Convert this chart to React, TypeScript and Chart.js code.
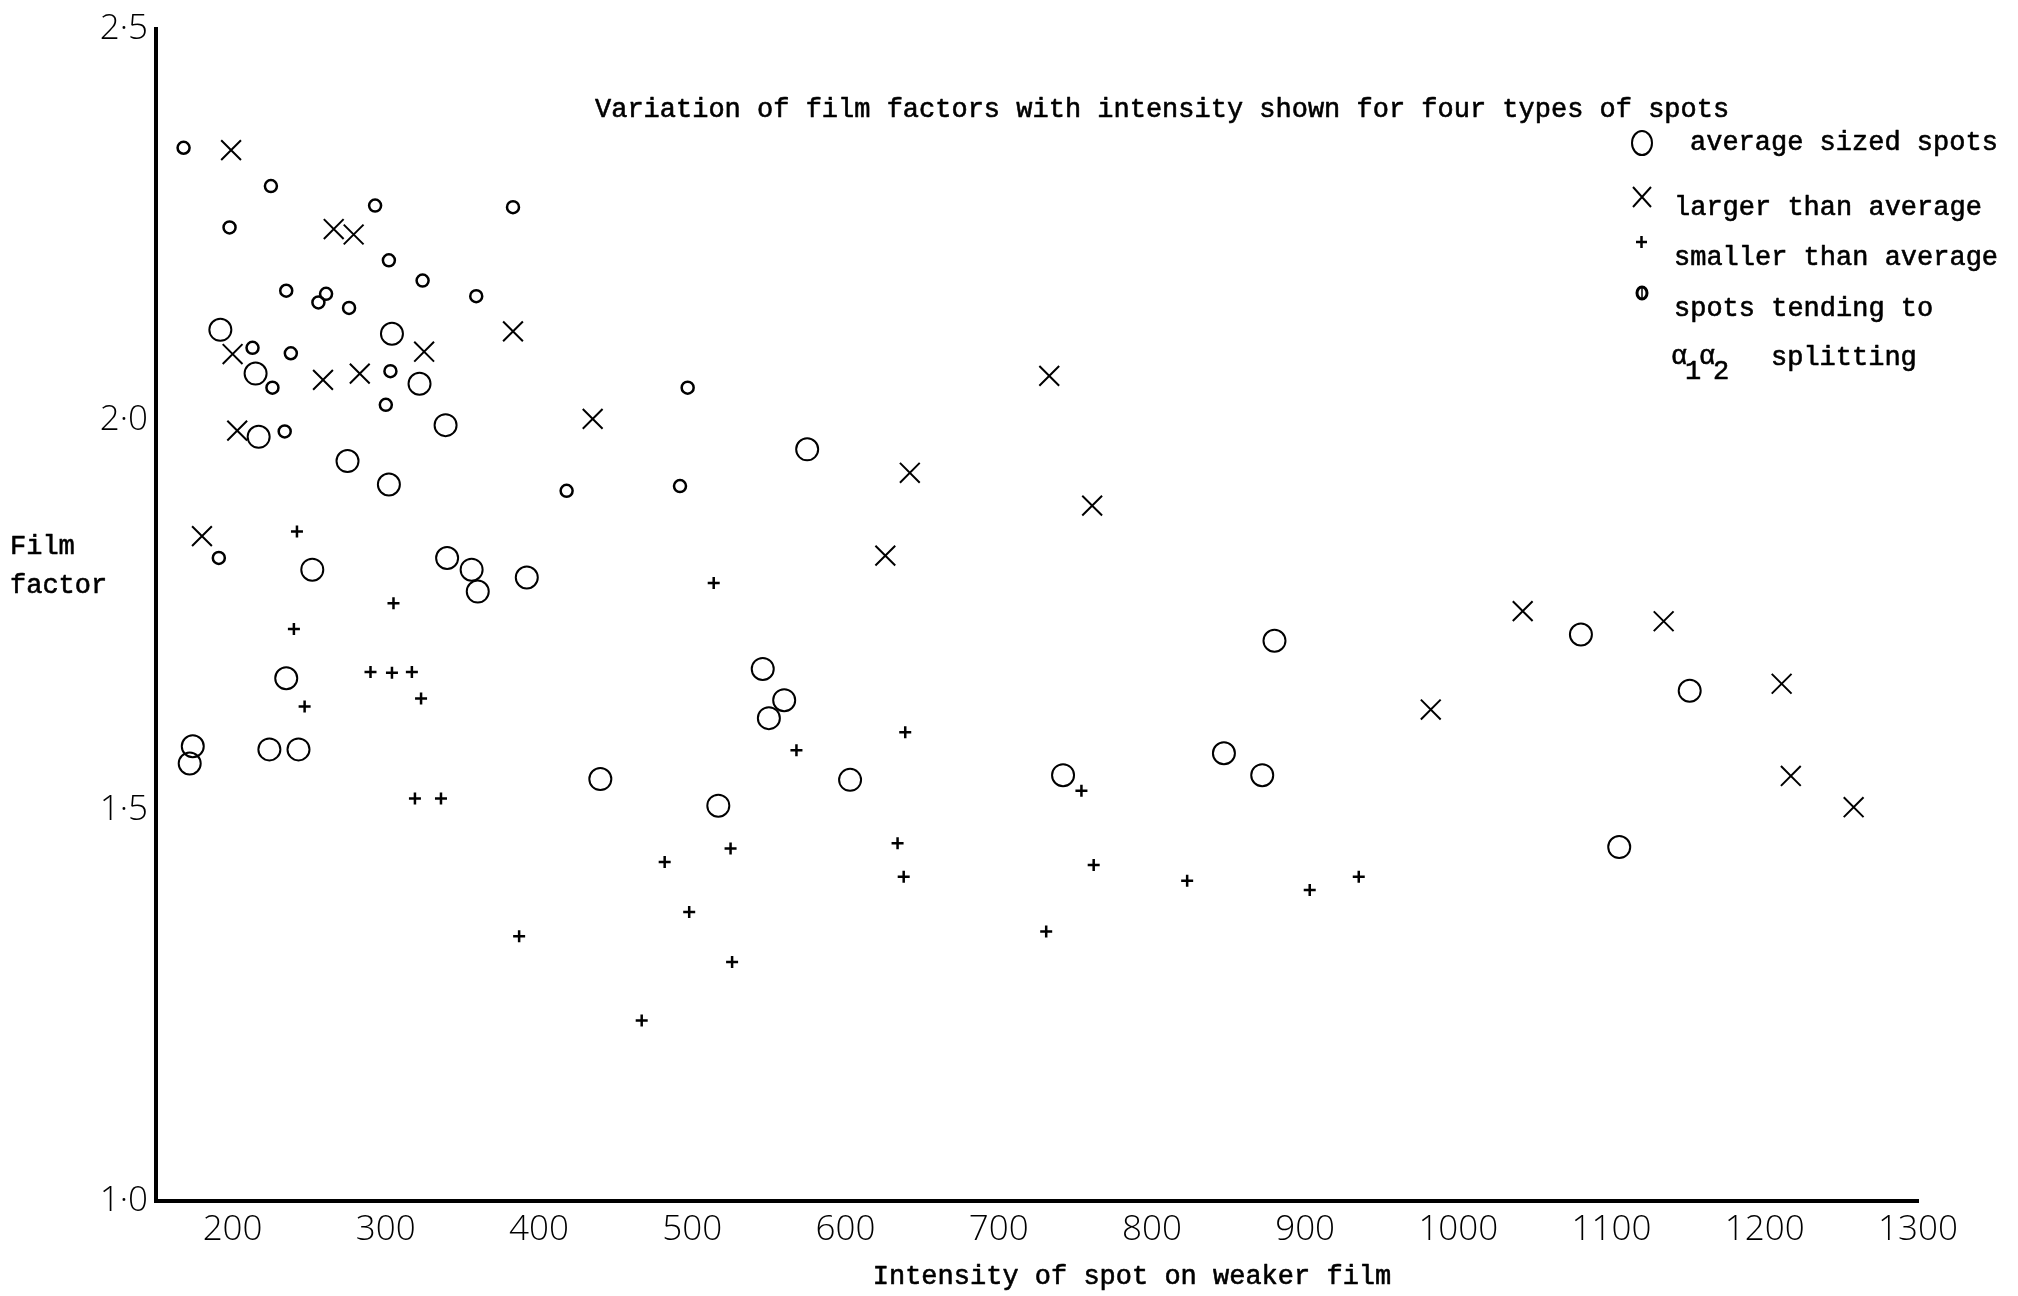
import React, { useEffect, useRef } from 'react';
import { Chart, registerables } from 'chart.js';

Chart.register(...registerables);

const W = 2018;
const H = 1296;

const TITLE = 'Variation of film factors with intensity shown for four types of spots';
const X_TITLE = 'Intensity of spot on weaker film';
const Y_TITLE_LINES = ['Film', 'factor'];

const seriesLabels = [
  'average sized spots',
  'larger than average',
  'smaller than average',
  'spots tending to α1α2 splitting',
];

const xTickValues = [200, 300, 400, 500, 600, 700, 800, 900, 1000, 1100, 1200, 1300];
const yTickValues = [1.0, 1.5, 2.0, 2.5];
const yTickLabels = ['1·0', '1·5', '2·0', '2·5'];

// average sized spots (large circles)
const averageIntensity = [192, 304, 215, 322, 339, 217, 275, 302, 575, 340, 356, 360, 392, 252, 235, 174, 172, 224, 243, 440, 546, 560, 550, 517, 603, 742, 847, 872, 880, 1080, 1151, 1105];
const averageFactor = [2.115, 2.110, 2.059, 2.046, 1.993, 1.978, 1.947, 1.917, 1.962, 1.823, 1.808, 1.780, 1.798, 1.808, 1.669, 1.582, 1.560, 1.578, 1.578, 1.540, 1.681, 1.641, 1.618, 1.506, 1.539, 1.545, 1.573, 1.545, 1.717, 1.725, 1.653, 1.453];

// larger than average (x)
const largerIntensity = [199, 266, 279, 325, 200, 259, 283, 383, 203, 435, 180, 733, 642, 761, 626, 982, 1042, 1134, 1211, 1217, 1258];
const largerFactor = [2.345, 2.244, 2.237, 2.087, 2.084, 2.051, 2.059, 2.113, 1.986, 2.001, 1.851, 2.056, 1.932, 1.890, 1.826, 1.629, 1.755, 1.742, 1.662, 1.544, 1.504];

// smaller than average (+)
const smallerIntensity = [242, 305, 240, 247, 290, 304, 317, 323, 319, 336, 387, 514, 568, 482, 525, 498, 526, 467, 639, 634, 638, 731, 754, 762, 823, 903, 935];
const smallerFactor = [1.857, 1.765, 1.732, 1.633, 1.677, 1.676, 1.677, 1.643, 1.515, 1.515, 1.339, 1.791, 1.577, 1.434, 1.451, 1.370, 1.306, 1.231, 1.600, 1.458, 1.415, 1.345, 1.525, 1.430, 1.410, 1.398, 1.415];

// spots tending to a1a2 splitting (small circles)
const splitIntensity = [168, 225, 198, 293, 383, 302, 235, 256, 261, 276, 324, 359, 213, 238, 226, 303, 300, 234, 497, 418, 492, 191];
const splitFactor = [2.348, 2.299, 2.246, 2.274, 2.272, 2.204, 2.165, 2.150, 2.161, 2.143, 2.178, 2.158, 2.092, 2.085, 2.041, 2.062, 2.019, 1.985, 2.041, 1.909, 1.915, 1.823];

const toPoints = (xs: number[], ys: number[]) => xs.map((x, i) => ({ x, y: ys[i] }));

const MONO = '27px "Liberation Mono", "Courier New", monospace';
const TICK_FONT_FAMILY = '"Open Sans", "DejaVu Sans", sans-serif';

const typeText = (ctx: CanvasRenderingContext2D, s: string, x: number, y: number) => {
  ctx.fillText(s, x, y);
  ctx.strokeText(s, x, y);
};

const paperText = {
  id: 'paperText',
  afterDraw(chart: any) {
    const ctx: CanvasRenderingContext2D = chart.ctx;
    ctx.save();
    ctx.fillStyle = '#000';
    ctx.strokeStyle = '#000';
    ctx.font = MONO;
    ctx.textAlign = 'left';
    ctx.textBaseline = 'alphabetic';
    ctx.lineWidth = 0.6;
    ctx.lineJoin = 'round';

    // title
    typeText(ctx, TITLE, 595, 117);

    // legend texts
    typeText(ctx, seriesLabels[0], 1690, 150);
    typeText(ctx, seriesLabels[1], 1674, 215);
    typeText(ctx, seriesLabels[2], 1674, 265);
    typeText(ctx, 'spots tending to', 1674, 316);
    ctx.textAlign = 'center';
    typeText(ctx, 'α', 1679, 364);
    typeText(ctx, '1', 1693, 379);
    typeText(ctx, 'α', 1707, 364);
    typeText(ctx, '2', 1721, 379);
    ctx.textAlign = 'left';
    typeText(ctx, 'splitting', 1771, 365);

    // axis titles
    typeText(ctx, Y_TITLE_LINES[0], 10, 554);
    typeText(ctx, Y_TITLE_LINES[1], 10, 593);
    ctx.textAlign = 'center';
    typeText(ctx, X_TITLE, 1132, 1284);

    // legend symbols
    ctx.lineWidth = 2;
    ctx.beginPath();
    ctx.ellipse(1642, 143, 10, 12, 0, 0, Math.PI * 2);
    ctx.stroke();

    ctx.beginPath();
    ctx.moveTo(1633, 187);
    ctx.lineTo(1651, 207);
    ctx.moveTo(1651, 187);
    ctx.lineTo(1633, 207);
    ctx.stroke();

    ctx.lineWidth = 2.5;
    ctx.beginPath();
    ctx.moveTo(1636, 242);
    ctx.lineTo(1647, 242);
    ctx.moveTo(1641.5, 236);
    ctx.lineTo(1641.5, 248);
    ctx.stroke();

    ctx.lineWidth = 3;
    ctx.beginPath();
    ctx.ellipse(1642, 293, 5, 6, 0, 0, Math.PI * 2);
    ctx.stroke();
    ctx.lineWidth = 1.5;
    ctx.beginPath();
    ctx.moveTo(1642, 288);
    ctx.lineTo(1642, 298);
    ctx.stroke();

    ctx.restore();
  },
};

export default function App() {
  const canvasRef = useRef<HTMLCanvasElement | null>(null);

  useEffect(() => {
    const canvas = canvasRef.current;
    if (!canvas) return;
    const chart = new Chart(canvas, {
      type: 'scatter',
      data: {
        datasets: [
          {
            label: seriesLabels[0],
            data: toPoints(averageIntensity, averageFactor),
            pointStyle: 'circle',
            pointRadius: 11,
            pointBorderWidth: 2,
            borderColor: '#000',
            pointBorderColor: '#000',
            pointBackgroundColor: 'rgba(0,0,0,0)',
            backgroundColor: 'rgba(0,0,0,0)',
          },
          {
            label: seriesLabels[1],
            data: toPoints(largerIntensity, largerFactor),
            pointStyle: 'crossRot',
            pointRadius: 14,
            pointBorderWidth: 2,
            borderColor: '#000',
            pointBorderColor: '#000',
            backgroundColor: 'rgba(0,0,0,0)',
          },
          {
            label: seriesLabels[2],
            data: toPoints(smallerIntensity, smallerFactor),
            pointStyle: 'cross',
            pointRadius: 6,
            pointBorderWidth: 2.5,
            borderColor: '#000',
            pointBorderColor: '#000',
            backgroundColor: 'rgba(0,0,0,0)',
          },
          {
            label: seriesLabels[3],
            data: toPoints(splitIntensity, splitFactor),
            pointStyle: 'circle',
            pointRadius: 6,
            pointBorderWidth: 2.5,
            borderColor: '#000',
            pointBorderColor: '#000',
            pointBackgroundColor: 'rgba(0,0,0,0)',
            backgroundColor: 'rgba(0,0,0,0)',
          },
        ],
      },
      options: {
        animation: false,
        responsive: true,
        maintainAspectRatio: false,
        layout: { padding: { top: 28, right: 100, bottom: 0, left: 0 } },
        plugins: {
          legend: { display: false },
          tooltip: { enabled: false },
          title: { display: false },
        },
        scales: {
          x: {
            type: 'linear',
            min: 150,
            max: 1300,
            afterBuildTicks: (scale: any) => {
              scale.ticks = xTickValues.map((v) => ({ value: v }));
            },
            afterFit: (scale: any) => {
              scale.height = 95;
            },
            grid: { display: false, drawTicks: false },
            border: { display: true, color: '#000', width: 4 },
            ticks: {
              color: '#000',
              padding: 8,
              autoSkip: false,
              maxRotation: 0,
              font: { family: TICK_FONT_FAMILY, size: 35, weight: '300' as any },
              callback: (value: any) => String(value),
            },
          },
          y: {
            type: 'linear',
            min: 1.0,
            max: 2.5,
            afterBuildTicks: (scale: any) => {
              scale.ticks = yTickValues.map((v) => ({ value: v }));
            },
            afterFit: (scale: any) => {
              scale.width = 156;
            },
            grid: { display: false, drawTicks: false },
            border: { display: true, color: '#000', width: 4 },
            ticks: {
              color: '#000',
              padding: 8,
              autoSkip: false,
              font: { family: TICK_FONT_FAMILY, size: 35, weight: '300' as any },
              callback: (_value: any, index: number) => yTickLabels[index],
            },
          },
        },
      },
      plugins: [paperText],
    });
    return () => chart.destroy();
  }, []);

  return (
    <div style={{ position: 'fixed', left: 0, top: 0, width: W, height: H, background: '#fff' }}>
      <canvas ref={canvasRef} />
    </div>
  );
}
